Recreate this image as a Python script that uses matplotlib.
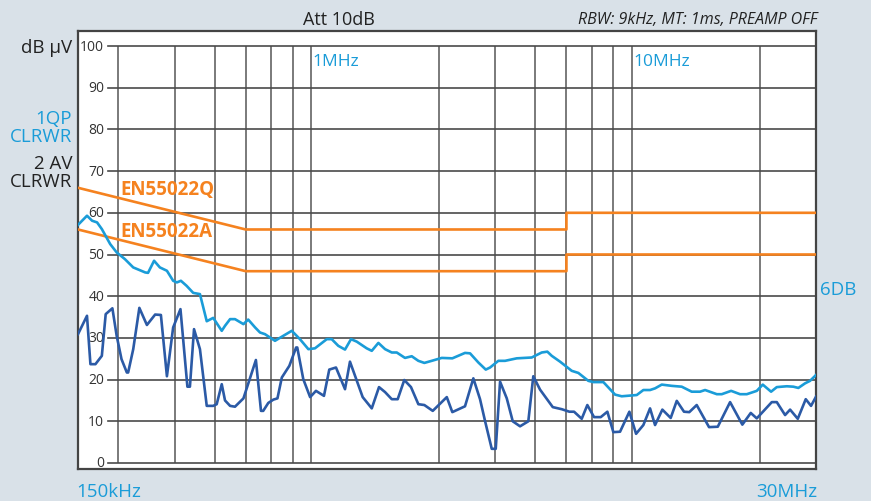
import numpy as np
import matplotlib.pyplot as plt

plt.rcParams['font.family'] = ['Open Sans', 'DejaVu Sans']

# frequencies in MHz, levels in dB uV
qp_f = [0.150, 0.160, 0.166, 0.172, 0.178, 0.189, 0.198, 0.210, 0.223, 0.243, 0.248,
        0.259, 0.270, 0.284, 0.297, 0.305, 0.314, 0.327, 0.343, 0.360, 0.378, 0.396,
        0.421, 0.431, 0.447, 0.463, 0.492, 0.509, 0.535, 0.554, 0.574, 0.617, 0.655,
        0.696, 0.738, 0.784, 0.822, 0.895, 0.927, 0.972, 1.020, 1.065, 1.110, 1.192,
        1.236, 1.296, 1.360, 1.427, 1.479, 1.569, 1.647, 1.727, 1.803, 1.901, 2.043,
        2.204, 2.414, 2.503, 2.657, 2.802, 2.890, 3.067, 3.218, 3.500, 3.897, 4.188,
        4.360, 4.500, 4.777, 5.195, 5.447, 5.852, 6.066, 6.519, 7.089, 7.436, 8.284,
        8.686, 9.114, 9.447, 9.913, 10.65, 11.44, 12.29, 13.05, 13.53, 14.72, 15.25,
        16.31, 17.39, 18.25, 19.61, 20.47, 21.73, 22.64, 24.32, 25.50, 26.43, 27.73,
        28.74, 30.0]
qp_v = [57.1, 59.3, 58.1, 57.7, 56.1, 52.5, 50.5, 48.9, 46.9, 45.7, 45.6,
        48.5, 46.9, 46.1, 43.7, 43.3, 43.7, 42.5, 40.8, 40.5, 34.0, 34.8,
        31.7, 32.9, 34.5, 34.5, 33.3, 34.4, 32.5, 31.3, 30.9, 29.3, 30.5,
        31.7, 29.7, 27.3, 27.5, 29.7, 29.7, 28.1, 27.2, 29.7, 29.1, 27.5,
        26.9, 28.8, 27.3, 26.5, 26.5, 25.2, 25.6, 24.5, 24.0, 24.5, 25.2,
        25.1, 26.4, 26.3, 24.1, 22.4, 22.9, 24.5, 24.5, 25.1, 25.3, 26.5,
        26.7, 25.7, 24.3, 22.1, 21.6, 19.7, 19.4, 19.4, 16.4, 16.0, 16.3,
        17.5, 17.5, 17.9, 18.8, 18.5, 18.3, 17.1, 17.1, 17.5, 16.5, 16.5,
        17.3, 16.5, 16.5, 17.3, 18.8, 17.1, 18.2, 18.4, 18.3, 18.0, 19.1,
        19.7, 21.1]

av_f = [0.150, 0.160, 0.164, 0.170, 0.178, 0.183, 0.192, 0.198, 0.205, 0.213, 0.215,
        0.223, 0.233, 0.246, 0.261, 0.272, 0.284, 0.297, 0.313, 0.329, 0.335, 0.345,
        0.360, 0.378, 0.396, 0.406, 0.421, 0.431, 0.447, 0.463, 0.492, 0.538, 0.558,
        0.567, 0.588, 0.610, 0.628, 0.648, 0.684, 0.718, 0.724, 0.756, 0.794, 0.828,
        0.877, 0.911, 0.956, 1.020, 1.057, 1.158, 1.236, 1.302, 1.360, 1.427, 1.489,
        1.561, 1.638, 1.727, 1.803, 1.915, 2.118, 2.204, 2.414, 2.563, 2.689, 2.787,
        2.925, 3.010, 3.105, 3.258, 3.401, 3.584, 3.803, 3.942, 4.137, 4.533, 4.835,
        5.107, 5.282, 5.580, 5.810, 6.097, 6.397, 6.708, 7.003, 7.348, 7.857, 8.243,
        8.686, 9.114, 9.447, 9.956, 10.57, 11.04, 11.63, 12.08, 12.74, 13.92, 14.82,
        16.19, 17.68, 18.78, 19.61, 21.84, 22.64, 24.03, 24.91, 26.32, 27.87, 28.95,
        30.0]
av_v = [30.9, 35.3, 23.7, 23.7, 25.7, 35.7, 37.1, 30.5, 24.9, 21.7, 21.7,
        27.3, 37.2, 33.1, 35.6, 35.5, 20.8, 32.5, 36.9, 18.3, 18.3, 32.1,
        27.3, 13.7, 13.7, 14.1, 18.9, 15.0, 13.7, 13.5, 15.5, 24.7, 12.5,
        12.5, 14.4, 15.2, 15.5, 20.5, 23.3, 27.7, 27.7, 20.1, 15.8, 17.3,
        16.1, 22.4, 22.9, 17.7, 24.3, 15.8, 13.1, 18.2, 17.0, 15.3, 15.3,
        19.9, 18.2, 14.1, 13.9, 12.5, 15.8, 12.2, 13.6, 20.3, 15.3, 10.1,
        3.4, 3.4, 19.5, 15.5, 10.0, 8.8, 10.0, 20.8, 17.6, 13.4, 12.9,
        12.3, 12.3, 10.6, 13.9, 11.0, 11.0, 12.3, 7.4, 7.5, 12.3, 7.0,
        9.1, 13.1, 9.1, 12.8, 10.8, 14.9, 12.3, 12.2, 13.9, 8.6, 8.7,
        14.6, 9.2, 12.0, 10.7, 14.6, 14.6, 11.5, 12.8, 10.6, 15.3, 13.7,
        15.9]

# EN55022 limit lines
lim_f = [0.15, 0.5, 5.0, 5.0, 30.0]
lim_q = [66, 56, 56, 60, 60]
lim_a = [56, 46, 46, 50, 50]

grid_f = [0.2, 0.3, 0.4, 0.5, 0.6, 0.7, 0.8, 2, 3, 4, 5, 6, 7, 8, 20]
y_levels = [0, 10, 20, 30, 40, 50, 60, 70, 80, 90, 100]

bg = '#d9e1e8'
light = '#1a9cd8'
dark = '#2b5aa6'
orange = '#f5821f'

fig = plt.figure(figsize=(8.71, 5.02), dpi=100, facecolor=bg)
ax = fig.add_axes([78 / 871, 1 - 470 / 502, 738 / 871, 438 / 502])
ax.set_facecolor('white')
ax.set_xscale('log')
ax.set_xlim(0.15, 30)
ax.set_ylim(-1.44, 103.6)
ax.set_xticks([])
ax.set_xticks([], minor=True)
ax.set_yticks([])
for s in ax.spines.values():
    s.set_color('#444444')
    s.set_linewidth(1.6)

ax.vlines(grid_f, 0, 100, color='#6f6f6f', lw=1.3, zorder=1)
for lv in y_levels:
    ax.axhline(lv, xmin=30 / 738, xmax=1, color='#4a4a4a', lw=1.2, zorder=1)
    ax.text(0.0355, lv, str(lv), transform=ax.get_yaxis_transform(),
            ha='right', va='center', fontsize=10, color='#333333')

ax.plot(lim_f, lim_q, color=orange, lw=1.9, zorder=3)
ax.plot(lim_f, lim_a, color=orange, lw=1.9, zorder=3)
ax.plot(qp_f, qp_v, color=light, lw=1.9, zorder=4)
ax.plot(av_f, av_v, color=dark, lw=1.9, zorder=4)

ax.text(0.204, 65.8, 'EN55022Q', color=orange, fontsize=13.5, fontweight='bold',
        ha='left', va='center', zorder=5)
ax.text(0.204, 55.6, 'EN55022A', color=orange, fontsize=13.5, fontweight='bold',
        ha='left', va='center', zorder=5)
ax.text(0.81, 96.5, '1MHz', color=light, fontsize=12.5, ha='left', va='center')
ax.text(8.1, 96.5, '10MHz', color=light, fontsize=12.5, ha='left', va='center')

def ftext(x, y, s, **kw):
    fig.text(x / 871, 1 - y / 502, s, **kw)

ftext(72, 48, 'dB µV', ha='right', va='center', fontsize=13.5, color='#222222')
ftext(72, 128, '1QP\nCLRWR', ha='right', va='center', fontsize=13.5, color=light,
      linespacing=1.0)
ftext(72, 173, '2 AV\nCLRWR', ha='right', va='center', fontsize=13.5, color='#222222',
      linespacing=1.0)
ftext(339, 20, 'Att 10dB', ha='center', va='center', fontsize=13, color='#222222')
ftext(817, 20, 'RBW: 9kHz, MT: 1ms, PREAMP OFF', ha='right', va='center',
      fontsize=11.5, style='italic', color='#222222')
ftext(76, 492, '150kHz', ha='left', va='center', fontsize=13.5, color=light)
ftext(817, 492, '30MHz', ha='right', va='center', fontsize=13.5, color=light)
ftext(820, 290, '6DB', ha='left', va='center', fontsize=13.5, color=light)

fig.savefig('out.png', dpi=100, facecolor=bg)
